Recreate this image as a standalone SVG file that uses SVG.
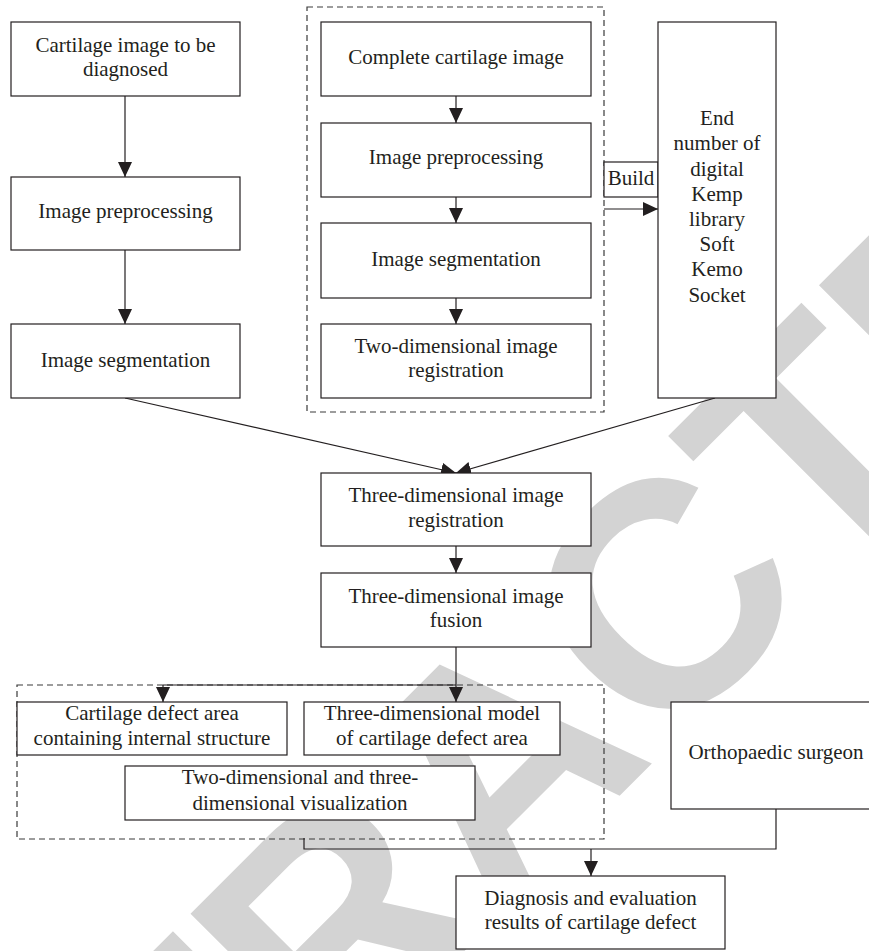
<svg xmlns="http://www.w3.org/2000/svg" width="869" height="951" viewBox="0 0 869 951">
<defs>
<style>
.box{fill:#fff;stroke:#231f20;stroke-width:1.2}
.dash{fill:none;stroke:#3a3a3a;stroke-width:1.2;stroke-dasharray:6 4}
.t{font-family:"Liberation Serif","Times New Roman",serif;font-size:21px;fill:#231f20;text-anchor:middle}
.ln{fill:none;stroke:#231f20;stroke-width:1.2}
.wm{font-family:"Liberation Sans",Arial,sans-serif;font-weight:bold;font-size:320px;fill:#d3d3d3;font-kerning:none}
</style>
<marker id="ah" viewBox="0 0 15 14" refX="15" refY="7" markerWidth="15" markerHeight="14" markerUnits="userSpaceOnUse" orient="auto">
<path d="M0,0 L15,7 L0,14 Z" fill="#231f20"/>
</marker>
</defs>
<rect width="869" height="951" fill="#fff"/>
<text class="wm" transform="translate(-121.5,1537) rotate(-45)">RETRACTED</text>

<g id="group-top"><rect class="dash" x="307" y="7" width="297" height="405"/></g>
<g id="group-bottom"><rect class="dash" x="17" y="685" width="587" height="154"/></g>

<g id="connectors">
<line class="ln" x1="125" y1="96" x2="125" y2="177" marker-end="url(#ah)"/>
<line class="ln" x1="125" y1="250" x2="125" y2="324" marker-end="url(#ah)"/>
<line class="ln" x1="456" y1="96" x2="456" y2="123" marker-end="url(#ah)"/>
<line class="ln" x1="456" y1="197" x2="456" y2="223" marker-end="url(#ah)"/>
<line class="ln" x1="456" y1="298" x2="456" y2="324" marker-end="url(#ah)"/>
<line class="ln" x1="604" y1="209" x2="658" y2="209" marker-end="url(#ah)"/>
<line class="ln" x1="125" y1="398" x2="456" y2="473" marker-end="url(#ah)"/>
<line class="ln" x1="715" y1="398" x2="456" y2="473" marker-end="url(#ah)"/>
<line class="ln" x1="456" y1="546" x2="456" y2="573" marker-end="url(#ah)"/>
<line class="ln" x1="456" y1="647" x2="456" y2="702" marker-end="url(#ah)"/>
<polyline class="ln" points="456,685 163,685"/>
<line class="ln" x1="163" y1="685" x2="163" y2="702" marker-end="url(#ah)"/>
<polyline class="ln" points="304,838 304,849 776,849 776,809"/>
<line class="ln" x1="591" y1="849" x2="591" y2="876" marker-end="url(#ah)"/>
</g>

<g id="n1"><rect class="box" x="11" y="22" width="229" height="74"/><text class="t" x="125.5" y="52">Cartilage image to be</text><text class="t" x="125.5" y="76">diagnosed</text></g>
<g id="n2"><rect class="box" x="11" y="177" width="229" height="73"/><text class="t" x="125.5" y="218">Image preprocessing</text></g>
<g id="n3"><rect class="box" x="11" y="324" width="229" height="74"/><text class="t" x="125.5" y="367">Image segmentation</text></g>

<g id="m1"><rect class="box" x="321" y="22" width="270" height="74"/><text class="t" x="456" y="64">Complete cartilage image</text></g>
<g id="m2"><rect class="box" x="321" y="123" width="270" height="74"/><text class="t" x="456" y="164">Image preprocessing</text></g>
<g id="m3"><rect class="box" x="321" y="223" width="270" height="75"/><text class="t" x="456" y="266">Image segmentation</text></g>
<g id="m4"><rect class="box" x="321" y="324" width="270" height="74"/><text class="t" x="456" y="353">Two-dimensional image</text><text class="t" x="456" y="377">registration</text></g>

<g id="build"><rect class="box" x="604" y="162" width="54" height="35"/><text class="t" x="631" y="185">Build</text></g>

<g id="library"><rect class="box" x="658" y="22" width="118" height="376"/>
<text class="t" x="717" y="125">End</text>
<text class="t" x="717" y="150">number of</text>
<text class="t" x="717" y="176">digital</text>
<text class="t" x="717" y="201">Kemp</text>
<text class="t" x="717" y="226">library</text>
<text class="t" x="717" y="251">Soft</text>
<text class="t" x="717" y="276">Kemo</text>
<text class="t" x="717" y="302">Socket</text>
</g>

<g id="reg3d"><rect class="box" x="321" y="473" width="270" height="73"/><text class="t" x="456" y="502">Three-dimensional image</text><text class="t" x="456" y="527">registration</text></g>
<g id="fusion3d"><rect class="box" x="321" y="573" width="270" height="74"/><text class="t" x="456" y="603">Three-dimensional image</text><text class="t" x="456" y="627">fusion</text></g>

<g id="b1"><rect class="box" x="17" y="702" width="270" height="53"/><text class="t" x="152" y="720">Cartilage defect area</text><text class="t" x="152" y="745">containing internal structure</text></g>
<g id="b2"><rect class="box" x="304" y="702" width="256" height="53"/><text class="t" x="432" y="720">Three-dimensional model</text><text class="t" x="432" y="745">of cartilage defect area</text></g>
<g id="b3"><rect class="box" x="125" y="766" width="350" height="54"/><text class="t" x="300" y="784">Two-dimensional and three-</text><text class="t" x="300" y="810">dimensional visualization</text></g>

<g id="surgeon"><rect class="box" x="671" y="702" width="210" height="107"/><text class="t" x="776" y="759">Orthopaedic surgeon</text></g>
<g id="diag"><rect class="box" x="456" y="876" width="269" height="73"/><text class="t" x="590.5" y="905">Diagnosis and evaluation</text><text class="t" x="590.5" y="929">results of cartilage defect</text></g>
</svg>
